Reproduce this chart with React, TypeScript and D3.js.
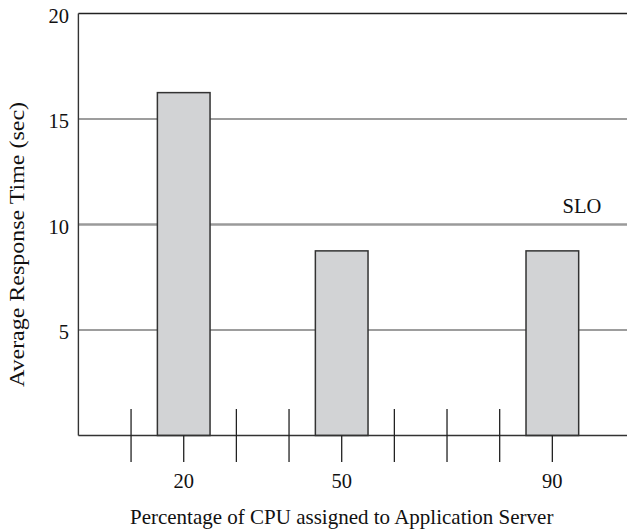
import React from "react";
import * as d3 from "d3";

const categories = [20, 50, 90];
const values = [16.25, 8.75, 8.75];
const yTicks = [5, 10, 15, 20];
const gridLines = [5, 15];
const sloValue = 10;
const minorTicks = [10, 30, 40, 60, 70, 80];
const barWidthUnits = 10;

const W = 627;
const H = 530;
const FONT = "'Liberation Serif', 'Times New Roman', serif";

export default function App() {
  const x = d3.scaleLinear().domain([0, 100]).range([78.4, 605]);
  const y = d3.scaleLinear().domain([0, 20]).range([435.5, 13.5]);
  const x0 = x(0);
  const y0 = y(0);
  const yTop = y(20);

  return (
    <svg
      width={W}
      height={H}
      style={{ position: "absolute", left: 0, top: 0, background: "#fff" }}
      fontFamily={FONT}
    >
      {/* grid lines */}
      {gridLines.map((v) => (
        <line key={"g" + v} x1={x0} x2={W} y1={y(v)} y2={y(v)} stroke="#7c7c7c" strokeWidth={1.4} />
      ))}
      <line x1={x0} x2={W} y1={y(sloValue)} y2={y(sloValue)} stroke="#9a9a9a" strokeWidth={2.4} />
      <text x={x(99.3)} y={213} fontSize={20.5} textAnchor="end" fill="#111">SLO</text>

      {/* top border */}
      <line x1={x0} x2={W} y1={yTop} y2={yTop} stroke="#222" strokeWidth={1.5} />

      {/* bars */}
      {categories.map((c, i) => (
        <rect
          key={"b" + c}
          x={x(c - barWidthUnits / 2)}
          y={y(values[i])}
          width={x(c + barWidthUnits / 2) - x(c - barWidthUnits / 2)}
          height={y0 - y(values[i])}
          fill="#d2d3d5"
          stroke="#333"
          strokeWidth={1.5}
        />
      ))}

      {/* axes */}
      <line x1={x0} x2={x0} y1={yTop} y2={y0} stroke="#333" strokeWidth={1.4} />
      <line x1={x0} x2={W} y1={y0} y2={y0} stroke="#333" strokeWidth={1.4} />

      {/* minor x ticks crossing the axis */}
      {minorTicks.map((t) => (
        <line key={"m" + t} x1={x(t)} x2={x(t)} y1={y0 - 26.5} y2={y0 + 26.5} stroke="#222" strokeWidth={1.3} />
      ))}
      {/* labelled x ticks */}
      {categories.map((c) => (
        <g key={"t" + c}>
          <line x1={x(c)} x2={x(c)} y1={y0} y2={y0 + 26.5} stroke="#222" strokeWidth={1.3} />
          <text x={x(c)} y={488} fontSize={20.5} textAnchor="middle" fill="#111">{c}</text>
        </g>
      ))}

      {/* y tick labels */}
      {yTicks.map((t) => (
        <text key={"y" + t} x={69} y={y(t) + 9} fontSize={20.5} textAnchor="end" fill="#111">{t}</text>
      ))}

      {/* axis titles */}
      <text x={x(50)} y={524} fontSize={21} textAnchor="middle" fill="#111">
        Percentage of CPU assigned to Application Server
      </text>
      <text
        transform={`translate(24, ${(96 + 393) / 2}) rotate(-90)`}
        fontSize={22}
        textAnchor="middle"
        textLength={285}
        lengthAdjust="spacingAndGlyphs"
        fill="#111"
      >
        Average Response Time (sec)
      </text>
    </svg>
  );
}
